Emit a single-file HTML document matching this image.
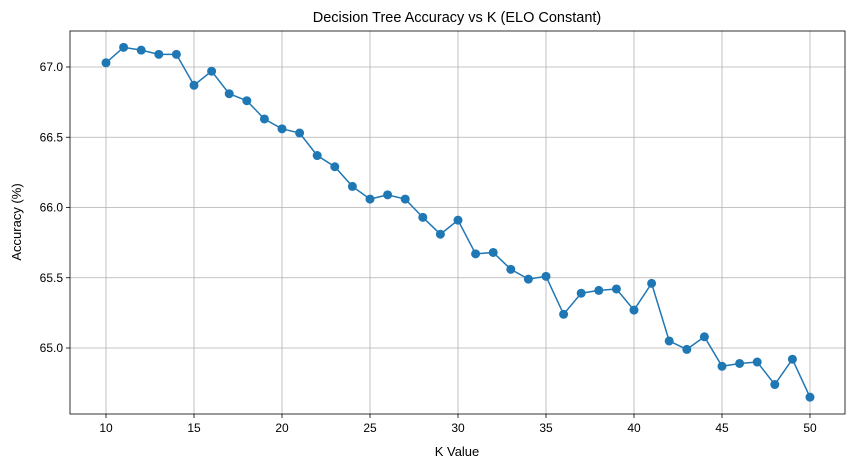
<!DOCTYPE html>
<html><head><meta charset="utf-8">
<style>
body{margin:0;background:#fff;}
svg{display:block;font-family:"Liberation Sans","DejaVu Sans",sans-serif;}
</style></head>
<body>
<svg id="chart" width="855" height="468" viewBox="0 0 855 468">
<rect x="0" y="0" width="855" height="468" fill="#fff"/>
<g id="grid"></g>
<g id="axes"></g>
<g id="series"></g>
<text x="457" y="22" text-anchor="middle" font-size="14.5" fill="#000">Decision Tree Accuracy vs K (ELO Constant)</text>
<text x="457" y="456" text-anchor="middle" font-size="13" fill="#000">K Value</text>
<text x="21" y="222" text-anchor="middle" font-size="13" fill="#000" transform="rotate(-90 21 222)">Accuracy (%)</text>
</svg>
<script>
const kValues = [10,11,12,13,14,15,16,17,18,19,20,21,22,23,24,25,26,27,28,29,30,31,32,33,34,35,36,37,38,39,40,41,42,43,44,45,46,47,48,49,50];
const accuracy = [67.03,67.14,67.12,67.09,67.09,66.87,66.97,66.81,66.76,66.63,66.56,66.53,66.37,66.29,66.15,66.06,66.09,66.06,65.93,65.81,65.91,65.67,65.68,65.56,65.49,65.51,65.24,65.39,65.41,65.42,65.27,65.46,65.05,64.99,65.08,64.87,64.89,64.90,64.74,64.92,64.65];
const xTicks = [10,15,20,25,30,35,40,45,50];
const yTicks = [65.0,65.5,66.0,66.5,67.0];

const L=70,R=845,T=31,B=414;
const NS="http://www.w3.org/2000/svg";
function xs(v){return 106+(v-10)*(810-106)/40;}
function ys(v){return 67+(67.0-v)*140.5;}
function mk(tag,attrs,parent){const e=document.createElementNS(NS,tag);for(const k in attrs)e.setAttribute(k,attrs[k]);parent.appendChild(e);return e;}
const grid=document.getElementById('grid'),axes=document.getElementById('axes'),series=document.getElementById('series');

xTicks.forEach(t=>{
  const x=xs(t);
  const g=mk('line',{x1:x,x2:x,y1:T,y2:B,stroke:'#b0b0b0','stroke-width':0.8},grid);
  
  
  const tk=mk('line',{x1:x,x2:x,y1:B,y2:B+4,stroke:'#000','stroke-width':0.8},axes);
  
  
  const lb=mk('text',{x:x,y:B+18,'text-anchor':'middle','font-size':12},axes);
  lb.textContent=t;
  
  
});
yTicks.forEach(t=>{
  const y=ys(t);
  const g=mk('line',{x1:L,x2:R,y1:y,y2:y,stroke:'#b0b0b0','stroke-width':0.8},grid);
  
  
  const tk=mk('line',{x1:L-4,x2:L,y1:y,y2:y,stroke:'#000','stroke-width':0.8},axes);
  
  
  const lb=mk('text',{x:L-7,y:y+4,'text-anchor':'end','font-size':12},axes);
  lb.textContent=t.toFixed(1);
  
  
});
const frame=mk('rect',{x:L,y:T,width:R-L,height:B-T,fill:'none',stroke:'#000','stroke-width':0.8},axes);



const pts=kValues.map((k,i)=>xs(k)+','+ys(accuracy[i])).join(' ');
const line=mk('polyline',{points:pts,fill:'none',stroke:'#1f77b4','stroke-width':1.5},series);


kValues.forEach((k,i)=>{
  const c=mk('circle',{cx:xs(k),cy:ys(accuracy[i]),r:4.5,fill:'#1f77b4'},series);
  
  
});
</script>
</body></html>
